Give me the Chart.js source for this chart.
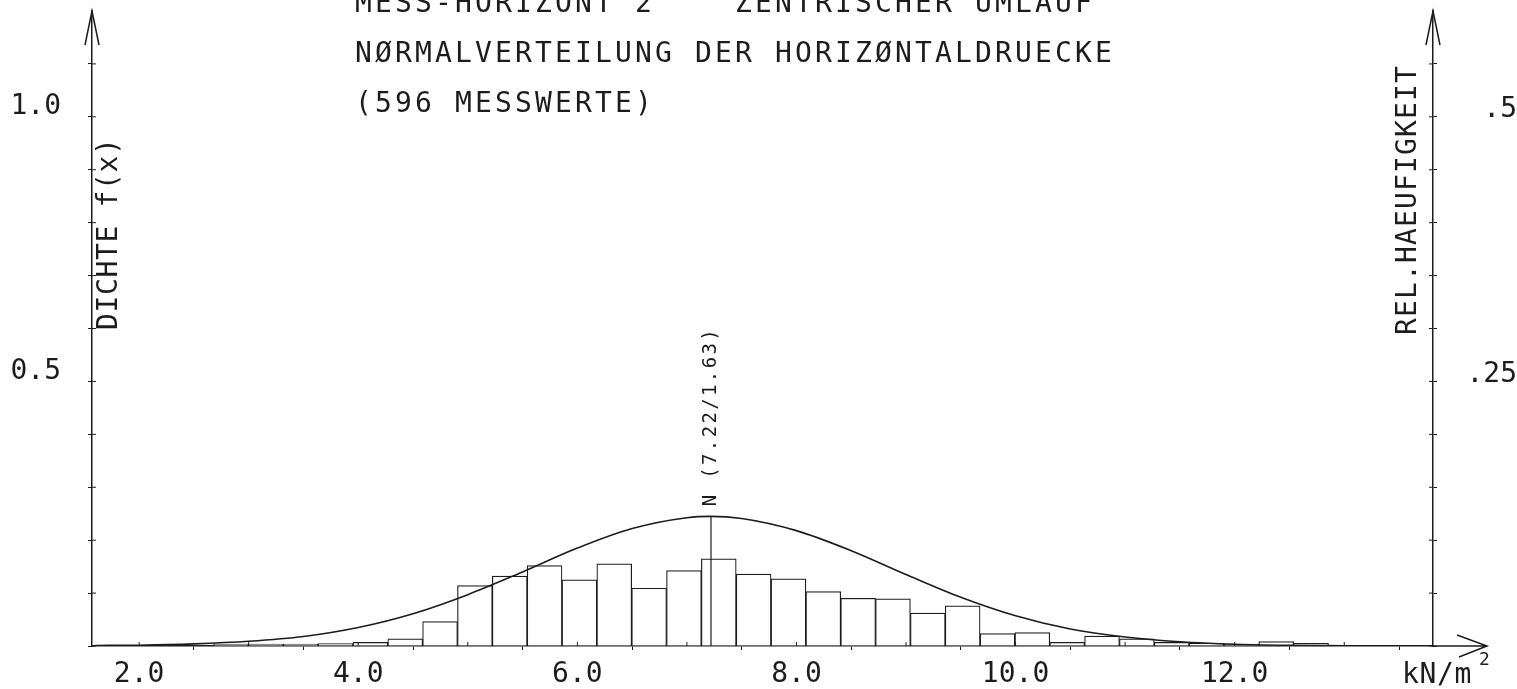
<!DOCTYPE html>
<html>
<head>
<meta charset="utf-8">
<script src="https://cdn.jsdelivr.net/npm/chart.js@4.4.0/dist/chart.umd.min.js"></script>
<style>
  html, body { margin: 0; padding: 0; background: #fff; }
  canvas { display: block; }
</style>
</head>
<body>
<canvas id="chart" width="1517" height="689"></canvas>
<script>
// values
const MEAN = 7.22;
const SIGMA = 1.63;

// histogram, relative frequency per class (right axis)
const binCenters = [2.839, 3.157, 3.475, 3.793, 4.111, 4.429, 4.747, 5.065,
  5.383, 5.701, 6.019, 6.337, 6.655, 6.973, 7.291, 7.609, 7.927, 8.245,
  8.563, 8.881, 9.199, 9.517, 9.835, 10.153, 10.471, 10.789, 11.107,
  11.425, 11.743, 12.061, 12.379, 12.697];
const relFreq = [0.0017, 0.0017, 0.0017, 0.0022, 0.0034, 0.0067, 0.023, 0.057,
  0.066, 0.076, 0.0625, 0.0777, 0.0546, 0.0713, 0.0824, 0.0679, 0.0634, 0.0514,
  0.0451, 0.0445, 0.031, 0.0379, 0.0117, 0.0126, 0.0034, 0.0094, 0.0067,
  0.0034, 0.0025, 0.0017, 0.0042, 0.0025];

// density curve f(x) (left axis)
const curveX = [1.6, 2.0, 2.5, 3.0, 3.5, 4.0, 4.5, 5.0, 5.5, 6.0, 6.5, 7.0, 7.22,
  7.5, 8.0, 8.5, 9.0, 9.5, 10.0, 10.5, 11.0, 11.5, 12.0, 12.5, 13.0];
const curveY = [0.001, 0.0015, 0.004, 0.009, 0.018, 0.035, 0.061, 0.097, 0.140,
  0.185, 0.222, 0.2425, 0.245, 0.241, 0.218, 0.180, 0.135, 0.092, 0.057, 0.032,
  0.017, 0.008, 0.0033, 0.0013, 0.0005];

// mean marker
const meanX = [MEAN, MEAN];
const meanY = [0, 0.245];

// tick labels
const xLabelValues = [2, 4, 6, 8, 10, 12];
const leftLabelValues = [0.5, 1.0];
const leftLabelTexts = ['0.5', '1.0'];
const rightLabelValues = [0.25, 0.5];
const rightLabelTexts = ['.25', '.5'];

const titleLines = [
  'MESS-HORIZONT 2    ZENTRISCHER UMLAUF',
  'NØRMALVERTEILUNG DER HORIZØNTALDRUECKE',
  '(596 MESSWERTE)'
];

const FONT = '"DejaVu Sans Mono", monospace';
const INK = '#1c1c1c';

function near(a, b) { return Math.abs(a - b) < 1e-6; }

function labelFor(v, values, texts) {
  for (let i = 0; i < values.length; i++) {
    if (near(v, values[i])) return texts[i];
  }
  return '';
}

// draw text char by char so the wide plotter spacing can be kept
function spaced(ctx, text, x, y, step) {
  for (let i = 0; i < text.length; i++) {
    ctx.fillText(text[i], x + i * step, y);
  }
}

function spacedUp(ctx, text, x, y, step) {
  ctx.save();
  ctx.translate(x, y);
  ctx.rotate(-Math.PI / 2);
  spaced(ctx, text, 0, 0, step);
  ctx.restore();
}

const plotterDecor = {
  id: 'plotterDecor',
  afterDraw(chart) {
    const ctx = chart.ctx;
    const area = chart.chartArea;
    const xs = chart.scales.x;
    const ys = chart.scales.y;
    const L = area.left, R = area.right, B = area.bottom, T = area.top;

    ctx.save();
    ctx.strokeStyle = INK;
    ctx.fillStyle = INK;
    ctx.lineWidth = 1.5;

    // arrow heads
    ctx.beginPath();
    ctx.moveTo(L - 7, T + 34); ctx.lineTo(L, T); ctx.lineTo(L + 7, T + 34);
    ctx.moveTo(R - 7, T + 34); ctx.lineTo(R, T); ctx.lineTo(R + 7, T + 34);
    ctx.moveTo(R, B); ctx.lineTo(1487, B);
    ctx.moveTo(1457, B - 11); ctx.lineTo(1487, B); ctx.lineTo(1459, B + 11);
    ctx.stroke();

    // inner half of the tick crosses
    ctx.lineWidth = 1;
    ctx.beginPath();
    ys.ticks.forEach(t => {
      const py = ys.getPixelForValue(t.value);
      ctx.moveTo(L, py); ctx.lineTo(L + 4, py);
    });
    chart.scales.y2.ticks.forEach(t => {
      const py = chart.scales.y2.getPixelForValue(t.value);
      ctx.moveTo(R - 4, py); ctx.lineTo(R, py);
    });
    xs.ticks.forEach(t => {
      const px = xs.getPixelForValue(t.value);
      ctx.moveTo(px, B - 4); ctx.lineTo(px, B);
    });
    ctx.stroke();

    // title block
    ctx.textBaseline = 'middle';
    ctx.textAlign = 'left';
    ctx.font = '28px ' + FONT;
    titleLines.forEach((line, i) => spaced(ctx, line, 355, 5 + i * 50, 20));

    // axis titles
    spacedUp(ctx, 'DICHTE f(x)', 110, 330, 17.5);
    spacedUp(ctx, 'REL.HAEUFIGKEIT', 1409, 335, 18);

    // unit
    spaced(ctx, 'kN/m', 1402, 676, 17.5);
    ctx.font = '18px ' + FONT;
    ctx.fillText('2', 1479, 660);

    // mean label
    const mx = xs.getPixelForValue(MEAN);
    const my = ys.getPixelForValue(meanY[1]);
    ctx.font = '19px ' + FONT;
    spacedUp(ctx, 'N (7.22/' + SIGMA.toFixed(2) + ')', mx, my - 10, 13.8);

    ctx.restore();
  }
};

const axisGrid = {
  drawOnChartArea: false,
  drawTicks: true,
  tickLength: 4,
  color: INK,
  lineWidth: 1
};

new Chart(document.getElementById('chart'), {
  type: 'bar',
  data: {
    datasets: [
      {
        type: 'line',
        data: curveX.map((x, i) => ({ x: x, y: curveY[i] })),
        borderColor: INK,
        borderWidth: 1.6,
        pointRadius: 0,
        cubicInterpolationMode: 'monotone',
        yAxisID: 'y',
        order: 0
      },
      {
        type: 'line',
        data: meanX.map((x, i) => ({ x: x, y: meanY[i] })),
        borderColor: INK,
        borderWidth: 1.2,
        pointRadius: 0,
        yAxisID: 'y',
        order: 0
      },
      {
        type: 'bar',
        data: binCenters.map((x, i) => ({ x: x, y: relFreq[i] })),
        backgroundColor: '#ffffff',
        borderColor: INK,
        borderWidth: 1.2,
        barPercentage: 1,
        categoryPercentage: 1,
        yAxisID: 'y2',
        order: 2
      }
    ]
  },
  options: {
    responsive: false,
    animation: false,
    events: [],
    layout: { padding: { top: 11, left: 0, right: 0, bottom: 0 } },
    plugins: { legend: { display: false }, tooltip: { enabled: false } },
    scales: {
      x: {
        type: 'linear',
        min: 1.57,
        max: 13.81,
        offset: false,
        grid: axisGrid,
        border: { display: true, color: INK, width: 1.5 },
        ticks: {
          stepSize: 1,
          includeBounds: false,
          autoSkip: false,
          maxRotation: 0,
          padding: 8,
          color: INK,
          font: { family: FONT, size: 28 },
          callback: v => xLabelValues.some(d => near(d, v)) ? v.toFixed(1) : ''
        },
        afterFit(scale) {
          scale.height = 43;
          scale.paddingLeft = 0;
          scale.paddingRight = 0;
        }
      },
      y: {
        position: 'left',
        min: 0,
        max: 1.2,
        grid: axisGrid,
        border: { display: true, color: INK, width: 1.5 },
        ticks: {
          stepSize: 0.1,
          padding: 27,
          labelOffset: -10,
          color: INK,
          font: { family: FONT, size: 28 },
          callback: v => labelFor(v, leftLabelValues, leftLabelTexts)
        },
        afterBuildTicks(scale) {
          scale.ticks = scale.ticks.filter(t => t.value <= 1.1001);
        },
        afterFit(scale) {
          scale.width = 92;
          scale.paddingTop = 0;
          scale.paddingBottom = 0;
        }
      },
      y2: {
        position: 'right',
        min: 0,
        max: 0.6,
        grid: axisGrid,
        border: { display: true, color: INK, width: 1.5 },
        ticks: {
          stepSize: 0.05,
          padding: 21,
          crossAlign: 'far',
          labelOffset: -7,
          color: INK,
          font: { family: FONT, size: 28 },
          callback: v => labelFor(v, rightLabelValues, rightLabelTexts)
        },
        afterBuildTicks(scale) {
          scale.ticks = scale.ticks.filter(t => t.value <= 0.5501);
        },
        afterFit(scale) {
          scale.width = 84;
          scale.paddingTop = 0;
          scale.paddingBottom = 0;
        }
      }
    }
  },
  plugins: [plotterDecor]
});
</script>
</body>
</html>
